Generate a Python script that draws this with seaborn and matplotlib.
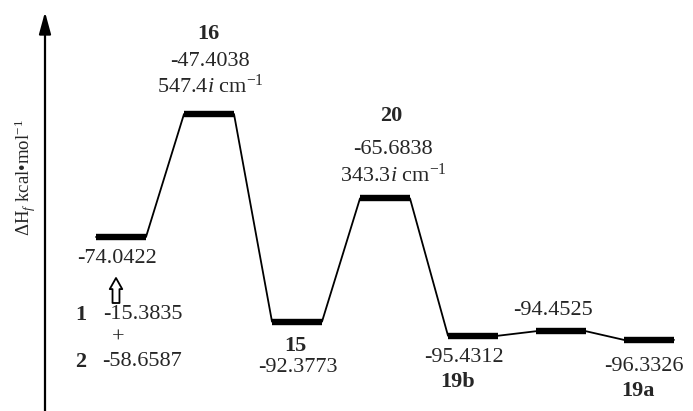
import matplotlib
matplotlib.use("Agg")
import matplotlib.pyplot as plt
import matplotlib.transforms as mtransforms
import numpy as np
import pandas as pd
import seaborn as sns

# Heats of formation (kcal/mol) along the reaction path
stages = ["1+2", "16", "15", "20", "19b", "TS", "19a"]
energies = [-74.0422, -47.4038, -92.3773, -65.6838, -95.4312, -94.4525, -96.3326]
reactant_names = ["1", "2"]
reactant_energies = [-15.3835, -58.6587]
imag_freqs = {"16": "547.4", "20": "343.3"}

sns.set_theme(style="white")
plt.rcParams["font.family"] = ["Liberation Serif", "DejaVu Serif"]
plt.rcParams["mathtext.fontset"] = "custom"
plt.rcParams["mathtext.rm"] = "Liberation Serif"
plt.rcParams["mathtext.it"] = "Liberation Serif:italic"
plt.rcParams["mathtext.bf"] = "Liberation Serif:bold"

fig = plt.figure(figsize=(6.93, 4.11), dpi=100)
ax = fig.add_axes([0, 0, 1, 1])

half = 0.284  # half length of each level bar in stage units
rows = []
for i, (s, e) in enumerate(zip(stages, energies)):
    rows.append({"x": i - half, "y": e, "stage": i})
    rows.append({"x": i + half, "y": e, "stage": i})
path = pd.DataFrame(rows)

# connecting lines between levels
sns.lineplot(data=path, x="x", y="y", sort=False, estimator=None,
             color="black", lw=1.3, ax=ax)
# thick energy levels
sns.lineplot(data=path, x="x", y="y", units="stage", sort=False, estimator=None,
             color="black", lw=4.6, solid_capstyle="butt", ax=ax)

ax.set_xlim(-1.375, 6.5)
ax.set_ylim(-111.73, -22.71)
ax.set_axis_off()

FS = 16


def label(i, text, dx, dy, **kw):
    ax.annotate(text, xy=(i, energies[i]), xytext=(dx, dy),
                textcoords="offset pixels", ha="center", va="center",
                fontsize=kw.pop("fontsize", FS), **kw)


def fmt(v):
    return f"{v:.4f}"


# reactants
label(0, fmt(energies[0]), -4, -22)
label(0, reactant_names[0], -40, -78, fontweight="bold")
label(0, fmt(reactant_energies[0]), 22, -78)
label(0, "+", -3, -101)
label(0, reactant_names[1], -40, -125, fontweight="bold")
label(0, fmt(reactant_energies[1]), 21, -125)
tip = mtransforms.offset_copy(ax.transData, fig=fig, x=-5, y=-41, units="dots")
ax.annotate("", xy=(0, energies[0]), xycoords=tip,
            xytext=(0, -25), textcoords="offset pixels",
            arrowprops=dict(arrowstyle="simple,head_length=0.8,head_width=0.9,tail_width=0.5",
                            mutation_scale=10, fc="white", ec="black", lw=1.3,
                            shrinkA=0, shrinkB=0))

# transition state 16
label(1, stages[1], -1, 80, fontweight="bold")
label(1, fmt(energies[1]), 1, 53)
label(1, imag_freqs["16"] + r"$i$ cm$^{\mathregular{-1}}$", 1, 28)

# intermediate 15
label(2, stages[2], -2, -24, fontweight="bold")
label(2, fmt(energies[2]), 1, -46)

# transition state 20
label(3, stages[3], 6, 82, fontweight="bold")
label(3, fmt(energies[3]), 8, 49)
label(3, imag_freqs["20"] + r"$i$ cm$^{\mathregular{-1}}$", 8, 23)

# products
label(4, fmt(energies[4]), -9, -22)
label(4, stages[4], -15, -46, fontweight="bold")
label(5, fmt(energies[5]), -8, 21)
label(6, fmt(energies[6]), -5, -27)
label(6, stages[6], -11, -51, fontweight="bold")

# energy axis with arrow head
ax.annotate("", xy=(45 / 693, 1 - 12 / 411), xycoords="axes fraction",
            xytext=(45 / 693, 0), textcoords="axes fraction",
            arrowprops=dict(arrowstyle="-|>,head_length=1.1,head_width=0.3",
                            color="black", lw=1.6, shrinkA=0, shrinkB=0))
ax.text(25 / 693, 1 - 178 / 411, r"ΔH$_{f}$ kcal•mol$^{\mathregular{-1}}$",
        transform=ax.transAxes, rotation=90, ha="center", va="center",
        fontsize=13.5)

fig.savefig("out.png", dpi=100)
